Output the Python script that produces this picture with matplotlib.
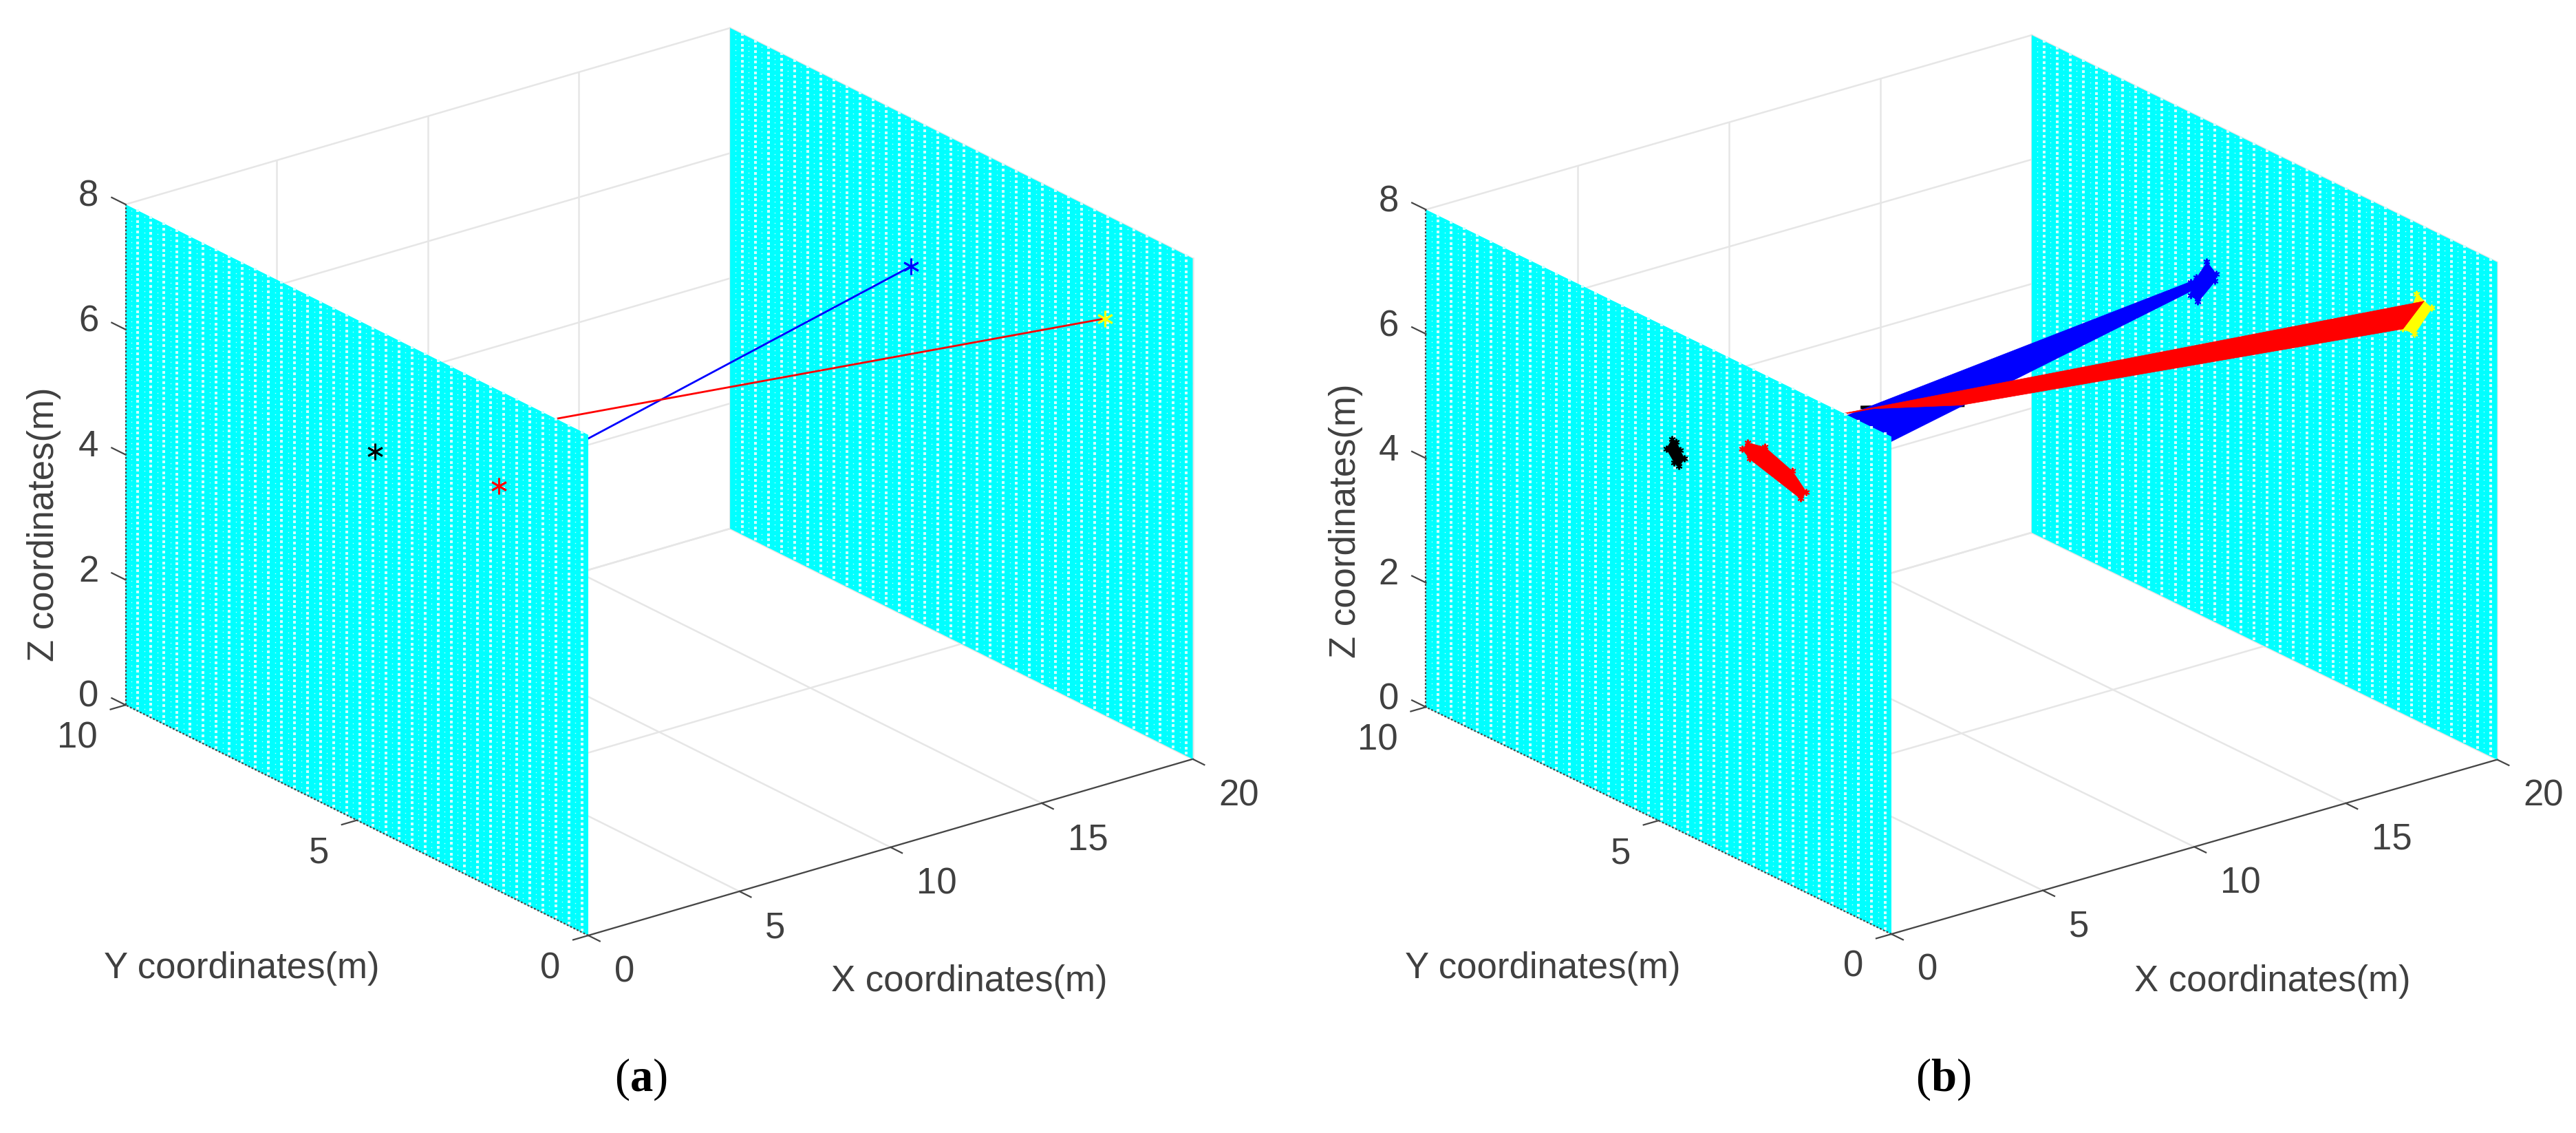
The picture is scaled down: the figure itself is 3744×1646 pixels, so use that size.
import numpy as np
import matplotlib
matplotlib.use('Agg')
import matplotlib.pyplot as plt
from mpl_toolkits.mplot3d import proj3d
from mpl_toolkits.mplot3d.art3d import Poly3DCollection

plt.rcParams['font.family'] = ['Liberation Sans', 'DejaVu Sans']
plt.rcParams['mathtext.fontset'] = 'custom'
plt.rcParams['mathtext.bf'] = 'Liberation Serif:bold'

W, H = 3744, 1646

x_ticks = [0, 5, 10, 15, 20]
y_ticks = [0, 5, 10]
z_ticks = [0, 2, 4, 6, 8]

# panel (a): single points on the two walls, (y, z)
a_black_star = (4.61, 6.03)
a_red_star = (1.93, 6.47)
a_blue_star = (6.09, 5.63)
a_yellow_star = (1.90, 6.34)

# panel (b): smeared tracks, outlines on the walls, (y, z)
b_black_smear = [(4.72, 6.24), (4.84, 6.04), (4.67, 5.88), (4.57, 5.86),
                 (4.45, 6.02), (4.54, 6.12), (4.62, 6.23)]
b_red_smear = [(3.09, 6.78), (3.21, 6.63), (3.05, 6.53), (1.95, 6.29),
               (1.83, 6.44), (2.13, 6.67), (2.72, 6.84)]
b_blue_smear = [(6.24, 5.73), (6.04, 5.61), (6.07, 5.48), (6.43, 5.02),
                (6.58, 5.07), (6.58, 5.27), (6.46, 5.40)]
b_yellow_smear = [(1.73, 6.86), (1.41, 6.75), (1.78, 6.20), (2.03, 6.19)]

# panel (b): bundles of rays between the walls, (x, y, z)
b_blue_band = [(0, 3.15, 6.56), (20, 6.51, 5.34), (20, 6.51, 5.19), (0, 1.89, 6.53)]
b_red_band = [(0, 4.57, 6.20), (20, 1.58, 6.80), (20, 2.03, 6.19),
              (8, 3.72, 6.03), (5, 3.65, 6.42)]
b_black_ray = [(4, 3.23, 6.73), (8, 3.67, 6.04)]

# target pixels of the box corners and view of each panel
a_box = {'O': (855, 1359), 'X': (1733, 1103), 'Y': (182, 1024), 'elev': 22.4, 'azim': -127.43, 'zr': 0.711}
b_box = {'O': (2749, 1357), 'X': (3630, 1103), 'Y': (2073, 1027), 'elev': 22.0, 'azim': -127.54, 'zr': 0.702}

TEXT = '#404040'
GRID = '#e6e6e6'
AXIS = '#454545'
ASTER = (6, 2, 0)


def to_px(ax, p):
    x2, y2, _ = proj3d.proj_transform(p[0], p[1], p[2], ax.get_proj())
    return ax.transData.transform((x2, y2))


# move the axes so the box corners land where they are in the picture
def fit_axes(ax, box):
    side = 2000.0
    cx, cy = 1000.0, 800.0
    for i in range(4):
        ax.set_position([(cx - side / 2) / W, (cy - side / 2) / H, side / W, side / H])
        ax.apply_aspect()
        px = to_px(ax, (20, 0, 0))[0] - to_px(ax, (0, 10, 0))[0]
        side = side * (box['X'][0] - box['Y'][0]) / px
        ax.set_position([(cx - side / 2) / W, (cy - side / 2) / H, side / W, side / H])
        ax.apply_aspect()
        o = to_px(ax, (0, 0, 0))
        cx += box['O'][0] - o[0]
        cy += (H - box['O'][1]) - o[1]
    ax.set_position([(cx - side / 2) / W, (cy - side / 2) / H, side / W, side / H])
    ax.apply_aspect()


def wall_polys(x):
    return [[(x, 0, 0), (x, 10, 0), (x, 10, 8), (x, 0, 8)]]


def on_wall(x, pts):
    return [[(x, p[0], p[1]) for p in pts]]


def add_wall(ax, x, z):
    ax.add_collection3d(Poly3DCollection(wall_polys(x), facecolors='#00ffff', edgecolors='none', zorder=z))
    # gaps between the cyan elements
    yy, zz = np.meshgrid(np.arange(0.14, 10, 0.2823), np.arange(0.04, 8, 0.0846))
    ax.plot(np.full(yy.size, x), yy.ravel(), zz.ravel(), ls='none', marker='s', ms=2.3, mew=0,
            color='#d0ffff', zorder=z + 0.1)
    yy, zz = np.meshgrid(np.arange(0.28, 10, 0.2823), np.arange(0.08, 8, 0.0846))
    ax.plot(np.full(yy.size, x), yy.ravel(), zz.ravel(), ls='none', marker='s', ms=1.0, mew=0,
            color='#c0ffff', zorder=z + 0.1)


def draw_frame(ax):
    # grid on floor and the two back planes
    for x in x_ticks:
        ax.plot([x, x], [0, 10], [0, 0], color=GRID, lw=1.8, zorder=1)
        ax.plot([x, x], [10, 10], [0, 8], color=GRID, lw=1.8, zorder=1)
    for y in y_ticks:
        ax.plot([0, 20], [y, y], [0, 0], color=GRID, lw=1.8, zorder=1)
        ax.plot([20, 20], [y, y], [0, 8], color=GRID, lw=1.8, zorder=1)
    for z in z_ticks:
        ax.plot([0, 20], [10, 10], [z, z], color=GRID, lw=1.8, zorder=1)
        ax.plot([20, 20], [0, 10], [z, z], color=GRID, lw=1.8, zorder=1)

    # axis lines and ticks
    ax.plot([0, 20], [0, 0], [0, 0], color=AXIS, lw=1.6, zorder=1.5)
    ax.plot([0, 0], [0, 10], [0, 0], color=AXIS, lw=1.6, ls=(0, (1.2, 1.2)), zorder=7)
    ax.plot([0, 0], [10, 10], [0, 8], color=AXIS, lw=1.6, ls=(0, (1.2, 1.2)), zorder=7)
    for x in x_ticks:
        ax.plot([x, x], [0, -0.25], [0, 0], color=AXIS, lw=1.6, zorder=1.5)
    for y in y_ticks:
        ax.plot([0, -0.5], [y, y], [0, 0], color=AXIS, lw=1.6, zorder=7)
    for z in z_ticks:
        ax.plot([0, 0], [10, 10.3], [z, z], color=AXIS, lw=1.6, zorder=7)


# tick labels go on after the axes are placed
def tick_labels(ax):
    for x in x_ticks:
        p = to_px(ax, (x, -0.56, -0.38))
        fig.text(p[0] / W, p[1] / H, str(x), ha='left', va='center', fontsize=38, color=TEXT)
    for y in y_ticks:
        p = to_px(ax, (-0.93, y, -0.40))
        fig.text(p[0] / W, p[1] / H, str(y), ha='right', va='center', fontsize=38, color=TEXT)
    for z in z_ticks:
        p = to_px(ax, (0, 10.8, z - 0.17))
        fig.text(p[0] / W, p[1] / H, str(z), ha='center', va='center', fontsize=38, color=TEXT)


def star(ax, x, p, color):
    ax.plot([x], [p[0]], [p[1]], ls='none', marker=ASTER, ms=17, mew=2.0, color=color, zorder=8)


# filled smear with asterisks on its outline, they give the ragged edge
def smear(ax, x, pts, color, z):
    ax.add_collection3d(Poly3DCollection(on_wall(x, pts), facecolors=color, edgecolors=color, lw=0.5, zorder=z))
    ys = [p[0] for p in pts]
    zs = [p[1] for p in pts]
    ax.plot([x] * len(pts), ys, zs, ls='none', marker=ASTER, ms=7, mew=1.4, color=color, zorder=z)


def panel_a(ax):
    draw_frame(ax)
    add_wall(ax, 20, 2)
    ax.plot([0, 20], [a_red_star[0], a_blue_star[0]], [a_red_star[1], a_blue_star[1]], color='#0000ff', lw=2.0, zorder=4)
    ax.plot([0, 20], [a_black_star[0], a_yellow_star[0]], [a_black_star[1], a_yellow_star[1]], color='#ff0000', lw=2.0, zorder=4.5)
    add_wall(ax, 0, 5)
    star(ax, 0, a_black_star, 'black')
    star(ax, 0, a_red_star, '#ff0000')
    star(ax, 20, a_blue_star, '#0000ff')
    star(ax, 20, a_yellow_star, '#ffff00')


def panel_b(ax):
    draw_frame(ax)
    add_wall(ax, 20, 2)
    xs, ys, zs = zip(*b_black_ray)
    ax.plot(xs, ys, zs, color='black', lw=3.5, zorder=3)
    ax.add_collection3d(Poly3DCollection([b_blue_band], facecolors='#0000ff', edgecolors='#0000ff', lw=0.5, zorder=3.2))
    smear(ax, 20, b_blue_smear, '#0000ff', 3.3)
    smear(ax, 20, b_yellow_smear, '#ffff00', 3.4)
    ax.add_collection3d(Poly3DCollection([b_red_band], facecolors='#ff0000', edgecolors='#ff0000', lw=0.5, zorder=3.5))
    add_wall(ax, 0, 5)
    smear(ax, 0, b_black_smear, 'black', 8)
    smear(ax, 0, b_red_smear, '#ff0000', 8)


fig = plt.figure(figsize=(W / 100, H / 100), dpi=100, facecolor='white')

for box, draw in [(a_box, panel_a), (b_box, panel_b)]:
    ax = fig.add_axes([0, 0, 1, 1], projection='3d', computed_zorder=False)
    ax.set_proj_type('ortho')
    ax.view_init(elev=box['elev'], azim=box['azim'], roll=0)
    ax.set_box_aspect((1, 1, box['zr']), zoom=1)
    ax.set_xlim(0, 20, view_margin=0)
    ax.set_ylim(0, 10, view_margin=0)
    ax.set_zlim(0, 8, view_margin=0)
    ax.set_axis_off()
    ax.patch.set_visible(False)
    draw(ax)
    fit_axes(ax, box)
    tick_labels(ax)


def put(x, y, s, **kw):
    fig.text(x / W, 1 - y / H, s, ha='center', va='center', **kw)


put(1409, 1426, 'X coordinates(m)', fontsize=38, color=TEXT)
put(351, 1407, 'Y coordinates(m)', fontsize=38, color=TEXT)
put(64, 762, 'Z coordinates(m)', fontsize=38, color=TEXT, rotation=90)
put(3303, 1426, 'X coordinates(m)', fontsize=38, color=TEXT)
put(2242, 1407, 'Y coordinates(m)', fontsize=38, color=TEXT)
put(1956, 757, 'Z coordinates(m)', fontsize=38, color=TEXT, rotation=90)
put(931, 1568, r'($\mathbf{a}$)', fontsize=48, family='Liberation Serif')
put(2824, 1568, r'($\mathbf{b}$)', fontsize=48, family='Liberation Serif')

fig.savefig('out.png', dpi=100)
